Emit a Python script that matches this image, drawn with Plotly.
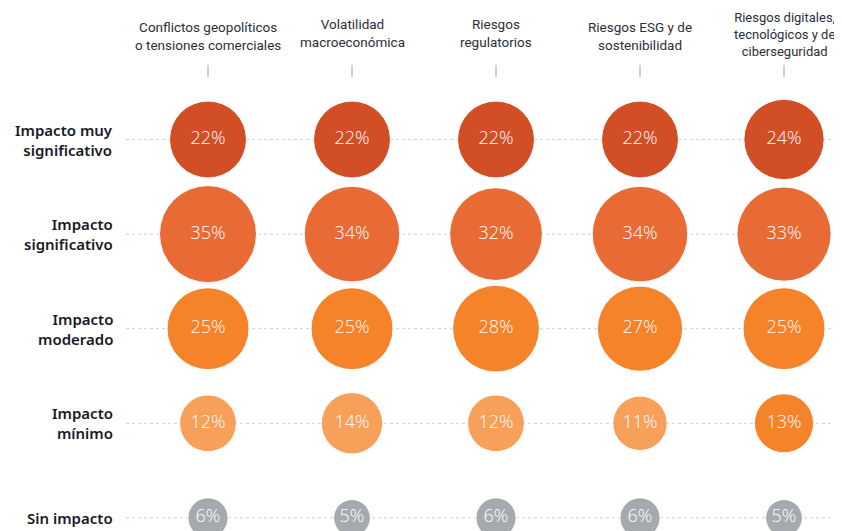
import plotly.graph_objects as go

# ---- data ----
columns = [
    "Conflictos geopolíticos<br>o tensiones comerciales",
    "Volatilidad<br>macroeconómica",
    "Riesgos<br>regulatorios",
    "Riesgos ESG y de<br>sostenibilidad",
    "Riesgos digitales,<br>tecnológicos y de<br>ciberseguridad",
]
rows = [
    "Impacto muy<br>significativo",
    "Impacto<br>significativo",
    "Impacto<br>moderado",
    "Impacto<br>mínimo",
    "Sin impacto",
]
muy_significativo = [22, 22, 22, 22, 24]
significativo = [35, 34, 32, 34, 33]
moderado = [25, 25, 28, 27, 25]
minimo = [12, 14, 12, 11, 13]
sin_impacto = [6, 5, 6, 6, 5]
series = [muy_significativo, significativo, moderado, minimo, sin_impacto]

# ---- styling ----
row_colors = ["#D24F25", "#E86A34", "#F4832A", "#F7A059", "#A6AAAE"]

# page has an 8px body margin: work in page pixels, convert to figure pixels
OFF = 8
W, H = 842 - OFF, 531 - OFF

def fx(p):
    return (p - OFF) / W

def fy(p):
    return 1 - (p - OFF) / H

fig = go.Figure()

for j, vals in enumerate(series):
    cols = [row_colors[j]] * len(vals)
    if j == 3:
        cols[4] = row_colors[2]  # last bubble drawn in deeper orange as in source
    fig.add_trace(go.Scatter(
        x=list(range(len(vals))),
        y=[j] * len(vals),
        mode="markers+text",
        text=[f"{v}%" for v in vals],
        textposition="middle center",
        textfont=dict(family="Open Sans", size=18, color="white", weight=300),
        marker=dict(
            size=vals,
            sizemode="area",
            sizeref=2 / (16.4 ** 2),
            color=cols,
            opacity=1,
            line=dict(color="white", width=1),
        ),
        hoverinfo="skip",
        showlegend=False,
        cliponaxis=False,
    ))

shapes = []
for j in range(len(rows)):
    shapes.append(dict(
        type="line", xref="paper", yref="y",
        x0=fx(126), x1=1, y0=j, y1=j,
        line=dict(color="#CDD1D5", width=1, dash="dot"),
        layer="below",
    ))
for i in range(len(columns)):
    shapes.append(dict(
        type="line", xref="x", yref="paper",
        x0=i, x1=i, y0=fy(65), y1=fy(77),
        line=dict(color="#A0A4A8", width=1),
    ))

annotations = []
for j, lab in enumerate(rows):
    annotations.append(dict(
        x=fx(115), y=j, xref="paper", yref="y",
        xanchor="right", yanchor="middle", align="right",
        text=lab, showarrow=False,
        font=dict(family="Noto Sans", size=15, color="#1A1A24", weight=600),
    ))
header_center_px = [36, 33, 33, 36, 34]
header_size = [13.5, 13.5, 13.5, 13.5, 13]
for i, lab in enumerate(columns):
    annotations.append(dict(
        x=i, y=fy(header_center_px[i]), xref="x", yref="paper",
        xanchor="center", yanchor="middle", align="center",
        text=lab, showarrow=False,
        font=dict(family="Roboto", size=header_size[i], color="#2E2E38"),
    ))

px_x0, px_dx = 208 - OFF, 144
px_y0, px_dy = 139.5 - OFF, 94.6
fig.update_layout(
    width=W, height=H,
    margin=dict(l=0, r=0, t=0, b=0),
    paper_bgcolor="white", plot_bgcolor="white",
    xaxis=dict(range=[-px_x0 / px_dx, (W - px_x0) / px_dx], visible=False, fixedrange=True),
    yaxis=dict(range=[(H - px_y0) / px_dy, -px_y0 / px_dy], visible=False, fixedrange=True),
    shapes=shapes,
    annotations=annotations,
)

fig.write_html("out.html")
